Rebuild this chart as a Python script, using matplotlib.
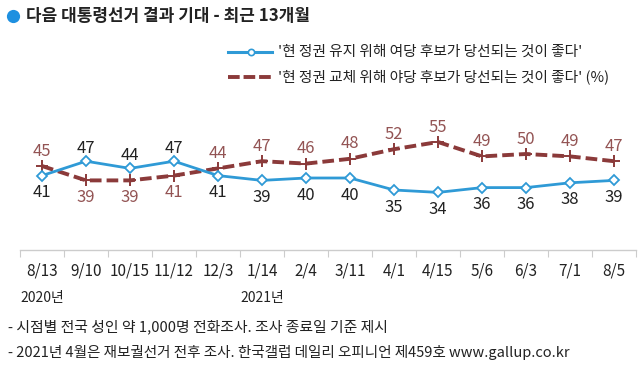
import matplotlib
matplotlib.use("Agg")
import matplotlib.pyplot as plt
from matplotlib.lines import Line2D

plt.rcParams['font.family'] = ['Noto Sans CJK KR', 'DejaVu Sans']

categories = ["8/13", "9/10", "10/15", "11/12", "12/3", "1/14", "2/4", "3/11",
              "4/1", "4/15", "5/6", "6/3", "7/1", "8/5"]
keep = [41, 47, 44, 47, 41, 39, 40, 40, 35, 34, 36, 36, 38, 39]
change = [45, 39, 39, 41, 44, 47, 46, 48, 52, 55, 49, 50, 49, 47]
keep_above = [False, True, True, True, False, False, False, False, False, False, False, False, False, False]
change_above = [True, False, False, False, True, True, True, True, True, True, True, True, True, True]
years = [("2020년", 0), ("2021년", 5)]

title = "다음 대통령선거 결과 기대 - 최근 13개월"
legend_keep = "'현 정권 유지 위해 여당 후보가 당선되는 것이 좋다'"
legend_change = "'현 정권 교체 위해 야당 후보가 당선되는 것이 좋다' (%)"
notes = ["- 시점별 전국 성인 약 1,000명 전화조사. 조사 종료일 기준 제시",
         "- 2021년 4월은 재보궐선거 전후 조사. 한국갤럽 데일리 오피니언 제459호 www.gallup.co.kr"]

W, H = 640, 380
BLUE = "#2f9ad6"
RED = "#8b3a3a"
RED_TXT = "#935454"
GRAY_TXT = "#222222"

fig = plt.figure(figsize=(W / 100, H / 100), dpi=100)
fig.patch.set_facecolor("white")

def fx(x):
    return x / W

def fy(y):
    return 1 - y / H

# axes from x=20..636, y=100..250 px
ax = fig.add_axes([fx(20), fy(250), (636 - 20) / W, 150 / H])
ax.set_xlim(-0.5, len(categories) - 0.5)
ax.set_ylim(10, 72.5)
ax.set_facecolor("none")
for s in ["top", "right", "left"]:
    ax.spines[s].set_visible(False)
ax.spines["bottom"].set_color("#cccccc")
ax.spines["bottom"].set_linewidth(1.0)
ax.set_yticks([])

x = list(range(len(categories)))
ax.set_xticks([i - 0.5 for i in range(len(categories) + 1)], minor=False)
ax.set_xticklabels([])
ax.tick_params(axis="x", which="major", length=5, color="#cccccc", direction="out")
ax.set_xticks(x, minor=True)
ax.set_xticklabels(categories, minor=True, fontsize=11, color=GRAY_TXT)
ax.tick_params(axis="x", which="minor", length=0, pad=9)

ax.plot(x, change, color=RED, lw=2.8, ls=(0, (3.0, 1.3)), marker="+", ms=9,
        mew=1.4, mec=RED, zorder=3)
ax.plot(x, keep, color=BLUE, lw=2.0, marker="D", ms=5, mfc="white", mec=BLUE,
        mew=1.3, zorder=4)

for i, v in enumerate(keep):
    off = 13 if keep_above[i] else -17
    ax.annotate(str(v), (i, v), xytext=(0, off), textcoords="offset pixels",
                ha="center", va="center", fontsize=12, color=GRAY_TXT)
for i, v in enumerate(change):
    off = 15 if change_above[i] else -17
    ax.annotate(str(v), (i, v), xytext=(0, off), textcoords="offset pixels",
                ha="center", va="center", fontsize=12, color=RED_TXT)

for label, idx in years:
    ax.annotate(label, (idx, 10), xytext=(0, -48), textcoords="offset pixels",
                ha="center", va="center", fontsize=10, color=GRAY_TXT,
                annotation_clip=False)

# title
fig.add_artist(Line2D([fx(13)], [fy(16)], marker="o", ms=9.5, color="#1e90e0",
                      mec="none", transform=fig.transFigure))
fig.text(fx(26), fy(16), title, fontsize=12.2, fontweight="bold",
         color="#222222", va="center", ha="left")

# legend
fig.add_artist(Line2D([fx(228), fx(272)], [fy(52), fy(52)], color=BLUE, lw=2.2,
                      transform=fig.transFigure))
fig.add_artist(Line2D([fx(251)], [fy(52)], color=BLUE, marker="o", ms=4.5,
                      mfc="white", mec=BLUE, mew=1.2, transform=fig.transFigure))
fig.add_artist(Line2D([fx(228), fx(272)], [fy(77), fy(77)], color=RED, lw=2.8,
                      ls=(0, (3.0, 1.0)), transform=fig.transFigure))
fig.text(fx(278), fy(52), legend_keep, fontsize=10.6, color="#222222",
         va="center", ha="left")
fig.text(fx(278), fy(77), legend_change, fontsize=10.6, color="#222222",
         va="center", ha="left")

# notes
fig.text(fx(8), fy(327), notes[0], fontsize=10.7, color="#222222", va="center", ha="left")
fig.text(fx(8), fy(352), notes[1], fontsize=10.5, color="#222222", va="center", ha="left")

fig.savefig("out.png", dpi=100, facecolor="white")
